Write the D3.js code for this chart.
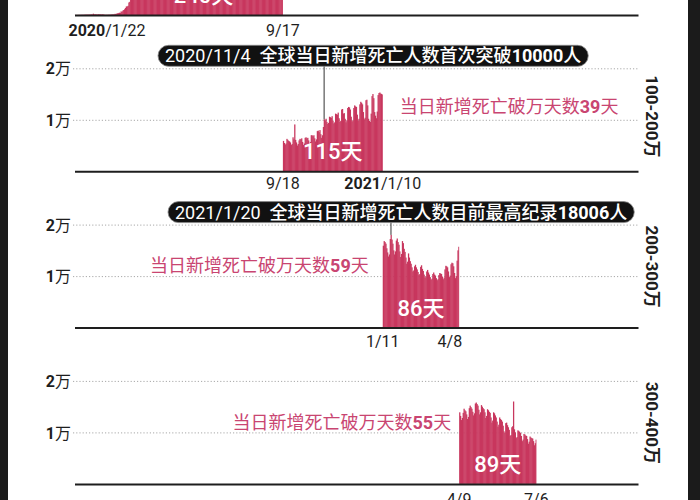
<!DOCTYPE html>
<html><head><meta charset="utf-8">
<script src="https://cdn.jsdelivr.net/npm/d3@7"></script>
<style>body{margin:0;background:#fff;} svg{display:block;}</style>
</head><body>
<svg id="c" width="700" height="500"></svg>
<script>
// ---------- data ----------
const periodStarts = ["2020-01-22", "2020-09-18", "2021-01-11", "2021-04-09"];

// 2020/1/22 – 2020/9/17 (240 days)
const deaths1 = [
 17,8,16,14,26,26,26,38,43,46, 45,57,64,66,73,73,86,89,97,108, 97,254,121,143,142,106,98,136,115,118, 109,97,150,71,52,29,44,37,58,
 60,67,72,84,98,106,103,229,202,280, 322,352,447,400,701,587,853,966,1115,1360, 1650,1663,1787,2430,2560,2980,3460,3600,3340,3480, 4620,
 5050,5500,6100,6100,4850,4880,7500,6750,7100,7480, 6100,5480,5370,7620,7800,8400,8370,6050,4880,4880, 7900,7200,6700,6240,5800,3800,4400,6750,6650,5760,
 5450,4780,3450,3700,5800,5960,6100,5300,4450,3650, 3490,5600,5350,5300,5230,4570,3350,3500,4730,4620, 4980,5100,4830,3350,3260,4140,5270,4790,4640,4240, 3060,
 3180,4780,5110,5330,4690,4050,3350,3880,4700,5130, 4900,4780,4280,3370,3800,6380,5230,5070,6220,4330, 3760,3760,5080,5260,5100,5150,4520,3430,3560,4800,
 5520,5100,5160,4360,3420,3690,5950,5420,5470,5360, 4900,3810,3990,5690,5440,5490,7360,5930,4360,4260, 6570,7110,6690,6340,5940,4410,4590,6750,6590,6320, 6010,
 5650,4280,4520,6950,6950,6800,6520,6120,4690,4570, 6770,6870,6420,6200,5700,4470,4270,6650,6800,6130, 5980,5660,4170,4150,6350,6300,5940,5830,5590,4320, 4330,
 6300,6350,5920,5560,5300,3930,3990,4740,6130,6090, 5830,5250,3870,4030,5700,6340,6050
];
// 2020/9/18 – 2021/1/10 (115 days)
const deaths2 = [
 5900,5500,5200,5400,6300,6100,5900,5800,5600,5100,5300,6600,6200,
 9100,6100,5600,5000,5300,6000,6300,6200,6400,5700,5100,5400,6500,6600,6400,6500,6000,5400,5700,7000,7000,6800,7000,6400,5800,6200,7800,7900,7600,8000,7200,
 6500,7000,8600,10100,9900,10200,9600,9200,9400,10600,10500,10400,10700,9800,9300,9500,11200,11100,11000,11400,10300,9600,9800,12000,12100,11200,11300,10200,9500,9900,
 12300,12500,12400,12000,10600,9700,9900,12300,12800,12600,12500,11000,9800,10200,13000,13500,13300,13000,11500,10100,10400,13800,13900,12800,10200,9800,9600,11200,14600,15000,14200,
 11500,10800,10300,11600,14800,15200,15300,15100,15000,14900
];
// 2021/1/11 – 2021/4/8
const deaths3 = [
 15900,16800,16600,16300,15400,14600,13800,14200,17200,18006,17100,16300,15000,14200,14800,16900,17300,16600,16100,14800,13700,
 14300,16800,16400,15300,14700,13600,12400,12800,14400,13600,12900,12400,11700,10900,11100,11900,12200,11700,11300,10800,10200,10400,11800,12100,11400,11000,10300,9700,
 9900,10900,11200,10700,10300,9800,9300,9500,10400,10700,10300,10100,9600,9200,9400,10200,10600,10500,10400,9900,9400,9700,11300,12000,11900,11700,10900,9800,10100,12300,12600,
 12500,11900,10600,9600,10000,13000,15000,15700
];
// 2021/4/9 – 2021/7/6 (89 days)
const deaths4 = [
 13900,13200,12400,12800,13800,14600,14300,14100,13500,12600,13000,14700,15200,14900,14600,14000,13300,13700,15600,15800,15500,15200,
 14400,13500,13900,15300,15000,14700,14500,13900,12800,13200,14500,14300,14000,13800,12900,11900,12300,13900,13700,13300,12900,12100,11100,11500,12900,12600,12400,12100,11300,10200,9900,
 11800,11900,11400,11000,10500,9300,9500,11000,11200,16000,10600,10000,8900,9100,10400,10300,10100,9900,9300,8300,8600,9700,9600,9400,9300,8700,7800,8200,9200,9000,
 8900,8800,8300,7500,7900,8600
];

const dayLabels = ["240天", "115天", "86天", "89天"];
const rangeLabels = ["", "100-200万", "200-300万", "300-400万"];
const startLabels = [["2020", "/1/22"], ["", "9/18"], ["", "1/11"], ["", "4/9"]];
const endLabels = [["", "9/17"], ["2021", "/1/10"], ["", "4/8"], ["", "7/6"]];
const yTicks = [10000, 20000];
const yTickLabels = [["1", "万"], ["2", "万"]];
const breakLabels = [null,
  ["当日新增死亡破万天数", "39", "天"],
  ["当日新增死亡破万天数", "59", "天"],
  ["当日新增死亡破万天数", "55", "天"]];
const calloutPanels = [1, 2];
const calloutDates = ["2020-11-04", "2021-01-20"];
const calloutTexts = [
  ["2020/11/4", "  全球当日新增死亡人数首次突破", "10000", "人"],
  ["2021/1/20", "  全球当日新增死亡人数目前最高纪录", "18006", "人"]
];

// ---------- layout ----------
const svg = d3.select("#c");
const FONT = "Roboto, 'Noto Sans CJK SC', sans-serif";
const RED = "#c8375e", PINK = "#c94571", INK = "#1e1e1e";
const parse = d3.utcParse("%Y-%m-%d");
const DAY = 864e5;
const x = d3.scaleUtc().domain([parse("2020-01-22"), parse("2021-11-01")]).range([74.5, 638]);
const series = [deaths1, deaths2, deaths3, deaths4];
const baseY = i => 15 + i * 156.3;
const dateLabelDy = [21, 18, 19, 21];
const rangeDy = [0, -55, -61, -61];

svg.append("rect").attr("width", 700).attr("height", 500).attr("fill", "#fff");

series.forEach((vals, i) => {
  const base = baseY(i);
  const y = d3.scaleLinear().domain([0, 20000]).range([base, base - 103]);
  const start = parse(periodStarts[i]);
  const days = vals.map((v, k) => ({d: new Date(+start + k * DAY), v}));
  const g = svg.append("g");

  // grid + y tick labels via axis (top panel's are above the picture)
  if (i > 0) {
    const ax = g.append("g").attr("transform", "translate(73,0)")
      .call(d3.axisLeft(y).tickValues(yTicks).tickSize(-(638 - 73)).tickPadding(3).tickFormat(() => ""));
    ax.select(".domain").remove();
    ax.selectAll(".tick line").attr("stroke", "#a8a8a8").attr("stroke-dasharray", "1.2,2").attr("stroke-width", 1);
    ax.selectAll(".tick text").attr("font-family", FONT).attr("font-size", 16).attr("fill", INK)
      .attr("x", -2).attr("dy", "0.35em")
      .each(function(d) {
        const lab = yTickLabels[yTicks.indexOf(d)];
        const t = d3.select(this);
        t.append("tspan").attr("font-weight", 700).text(lab[0]);
        t.append("tspan").text(lab[1]);
      });
  }

  // bars (slightly overlapping to avoid seams)
  const lastIdx = days.length - 1;
  g.append("g").selectAll("rect").data(days).join("rect")
    .attr("x", p => x(p.d))
    .attr("width", (p, k) => x(new Date(+p.d + DAY)) - x(p.d) + (k < lastIdx ? 0.4 : 0))
    .attr("y", p => y(p.v))
    .attr("height", p => base - y(p.v))
    .attr("fill", RED);

  // baseline
  const bx = g.append("g").attr("transform", `translate(0,${base})`)
    .call(d3.axisBottom(x).tickValues([]).tickSizeOuter(0));
  bx.select(".domain").attr("stroke", INK).attr("stroke-width", 2);

  // date labels
  const first = days[0].d, afterLast = new Date(+days[lastIdx].d + DAY);
  const addLabel = (parts, xx, anchor) => {
    const t = g.append("text").attr("x", xx).attr("y", base + dateLabelDy[i])
      .attr("text-anchor", anchor).attr("font-family", FONT).attr("font-size", 16).attr("fill", INK);
    if (parts[0]) t.append("tspan").attr("font-weight", 700).text(parts[0]);
    t.append("tspan").text(parts[1]);
  };
  if (i === 0) addLabel(startLabels[i], x(first) - 6, "start");
  else addLabel(startLabels[i], x(first), "middle");
  if (i === 2) addLabel(endLabels[i], x(afterLast) + 3, "end");
  else addLabel(endLabels[i], x(afterLast), "middle");

  // day count label, centred on the visible block
  const vis = days.filter(p => p.v >= 1000);
  const cx = (x(vis[0].d) + x(new Date(+vis[vis.length - 1].d + DAY))) / 2;
  g.append("text").attr("x", cx).attr("y", base - 20).attr("dy", "0.36em")
    .attr("text-anchor", "middle").attr("font-family", FONT).attr("font-size", 22)
    .attr("font-weight", 500).attr("fill", "#fff").text(dayLabels[i]);

  // range label on the right
  if (rangeLabels[i]) {
    g.append("text").attr("transform", `translate(652,${base + rangeDy[i]}) rotate(90)`)
      .attr("text-anchor", "middle").attr("dy", "0.35em")
      .attr("font-family", FONT).attr("font-size", 17).attr("font-weight", 700).attr("fill", INK)
      .text(rangeLabels[i]);
  }

  // break-10000 label
  if (breakLabels[i]) {
    const bl = breakLabels[i];
    let bxPos, anchor, by;
    if (i === 1) { bxPos = x(afterLast) + 17; anchor = "start"; by = base - 65; }
    else if (i === 2) { bxPos = x(first) - 14; anchor = "end"; by = base - 62; }
    else { bxPos = x(first) - 8; anchor = "end"; by = base - 61; }
    const t = g.append("text").attr("x", bxPos).attr("y", by).attr("dy", "0.36em")
      .attr("text-anchor", anchor).attr("font-family", FONT).attr("font-size", 18).attr("fill", PINK);
    t.append("tspan").text(bl[0]);
    t.append("tspan").attr("font-weight", 700).text(bl[1]);
    t.append("tspan").text(bl[2]);
  }

  // callout
  const ci = calloutPanels.indexOf(i);
  if (ci >= 0) {
    const cd = parse(calloutDates[ci]);
    const p = days.find(q => +q.d === +cd);
    const lx = x(cd) + (x(new Date(+cd + DAY)) - x(cd)) / 2;
    const cy = base - 115.5;
    const boxLeft = ci === 0 ? 158 : 168;
    g.append("line").attr("x1", lx).attr("x2", lx).attr("y1", cy + 10).attr("y2", y(p.v))
      .attr("stroke", "#333").attr("stroke-width", 1);
    const cg = g.append("g");
    const rect = cg.append("rect");
    const t = cg.append("text").attr("x", boxLeft + 7).attr("y", cy).attr("dy", "0.36em")
      .attr("font-family", FONT).attr("font-size", 18).attr("fill", "#fff")
      .attr("xml:space", "preserve").style("white-space", "pre");
    const parts = calloutTexts[ci];
    t.append("tspan").text(parts[0]);
    t.append("tspan").attr("font-weight", 500).text(parts[1]);
    t.append("tspan").attr("font-weight", 700).text(parts[2]);
    t.append("tspan").attr("font-weight", 500).text(parts[3]);
    const bb = t.node().getBBox();
    rect.attr("x", boxLeft).attr("y", cy - 10.5).attr("width", bb.width + 14).attr("height", 21)
      .attr("rx", 10.5).attr("fill", "#111").attr("stroke", "#888").attr("stroke-width", 0.8);
  }
});

// dark frame edges
svg.append("rect").attr("x", 0).attr("y", 0).attr("width", 8).attr("height", 500).attr("fill", "#1b1b1b");
svg.append("rect").attr("x", 688).attr("y", 0).attr("width", 12).attr("height", 500).attr("fill", "#1b1b1b");
</script>
</body></html>
